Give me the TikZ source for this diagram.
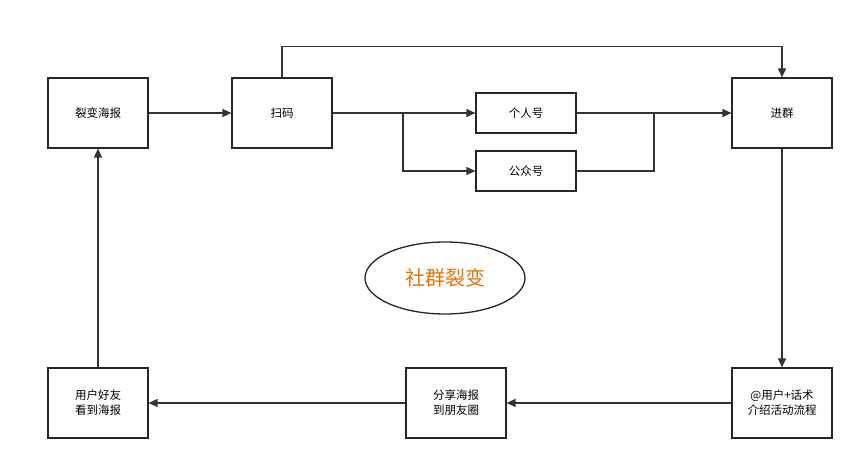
\documentclass[tikz,border=0pt]{standalone}
\usepackage{fontspec}
\setmainfont{Noto Sans CJK SC}
\usetikzlibrary{arrows.meta,shapes.geometric}
\begin{document}
\begin{tikzpicture}[x=1pt,y=-1pt,
  box/.style={draw=black!85,line width=1.2pt,fill=white,minimum width=100pt,minimum height=70pt,font=\fontsize{11.5}{15}\selectfont,align=center,inner sep=0pt},
  sbox/.style={box,minimum height=40pt},
  arr/.style={-{Triangle[length=9pt,width=8pt]},line width=1.3pt,draw=black!80},
  ln/.style={line width=1.3pt,draw=black!80}]
\useasboundingbox[fill=white] (0,0) rectangle (864,470);
\node[box] (a) at (98,113) {裂变海报};
\node[box] (b) at (282,113) {扫码};
\node[sbox] (c) at (526,113) {个人号};
\node[sbox] (d) at (526,171) {公众号};
\node[box] (e) at (782,113) {进群};
\node[box] (f) at (782,403) {@用户+话术\\介绍活动流程};
\node[box] (g) at (456,403) {分享海报\\到朋友圈};
\node[box] (h) at (98,403) {用户好友\\看到海报};
\node[draw=black!85,line width=1.3pt,ellipse,minimum width=160pt,minimum height=72pt,text=orange!90!black,font=\fontsize{20}{24}\selectfont] (t) at (445,278) {社群裂变};
\coordinate (s) at (403,113);
\coordinate (m) at (654,113);
\draw[arr] (a) -- (b);
\draw[ln] (b.east) -- (s);
\draw[arr] (s) -- (c.west);
\draw[arr] (s) |- (d.west);
\draw[ln] (c.east) -- (m);
\draw[ln] (d.east) -| (m);
\draw[arr] (m) -- (e.west);
\draw[arr] (b.north) -- ++(0,-31) -| (e.north);
\draw[arr] (e) -- (f);
\draw[arr] (f) -- (g);
\draw[arr] (g) -- (h);
\draw[arr] (h) -- (a);
\end{tikzpicture}
\end{document}
